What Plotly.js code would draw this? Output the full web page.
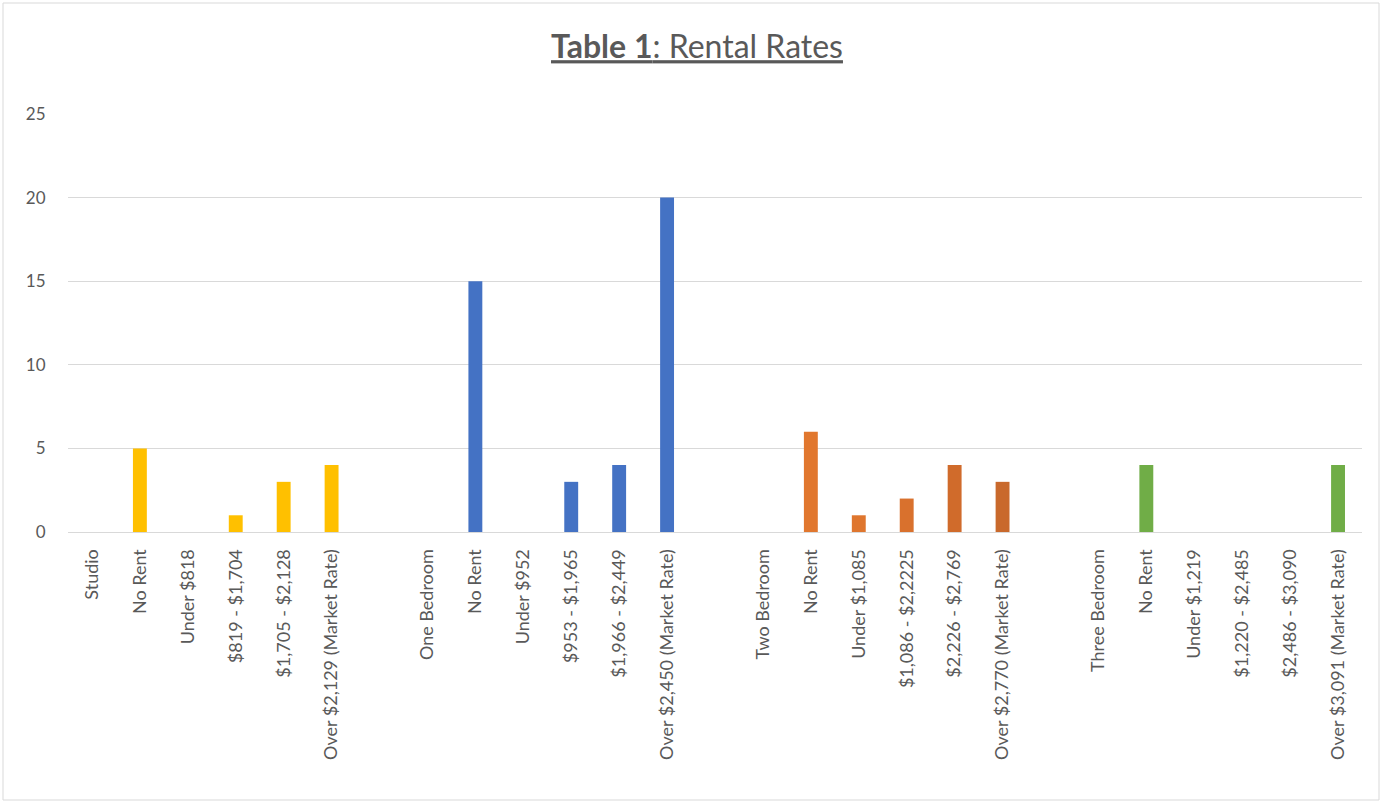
<!DOCTYPE html>
<html>
<head>
<meta charset="utf-8">
<script src="https://cdn.plot.ly/plotly-3.0.1.min.js"></script>
<style>html,body{margin:0;padding:0;background:#fff;}#chart{width:1382px;height:804px;}</style>
</head>
<body>
<div id="chart"></div>
<script>
// Data
const groups = ["Studio", "One Bedroom", "Two Bedroom", "Three Bedroom"];
const studioLabels = ["No Rent", "Under $818", "$819 - $1,704", "$1,705 - $2,128", "Over $2,129 (Market Rate)"];
const studioValues = [5, 0, 1, 3, 4];
const oneBedLabels = ["No Rent", "Under $952", "$953 - $1,965", "$1,966 - $2,449", "Over $2,450 (Market Rate)"];
const oneBedValues = [15, 0, 3, 4, 20];
const twoBedLabels = ["No Rent", "Under $1,085", "$1,086 - $2,2225", "$2,226 - $2,769", "Over $2,770 (Market Rate)"];
const twoBedValues = [6, 1, 2, 4, 3];
const threeBedLabels = ["No Rent", "Under $1,219", "$1,220 - $2,485", "$2,486 - $3,090", "Over $3,091 (Market Rate)"];
const threeBedValues = [4, 0, 0, 0, 4];

// Styles
const groupColors = [
  "#FFC000",
  "#4472C4",
  ["#E1772E", "#DF762E", "#D9712D", "#D06B2B", "#C9692C"],
  "#70AD47"
];

const allLabels = [studioLabels, oneBedLabels, twoBedLabels, threeBedLabels];
const allValues = [studioValues, oneBedValues, twoBedValues, threeBedValues];

const traces = [];
const tickvals = [];
const ticktext = [];
let pos = 0;
groups.forEach((g, gi) => {
  tickvals.push(pos); ticktext.push(g);
  const xs = [];
  pos += 1;
  allLabels[gi].forEach((lab) => {
    xs.push(pos); tickvals.push(pos); ticktext.push(lab); pos += 1;
  });
  traces.push({
    type: "bar",
    x: xs,
    y: allValues[gi],
    width: 0.29,
    marker: {color: groupColors[gi], line: {width: 0}},
    hoverinfo: "x+y",
    showlegend: false
  });
  pos += 1; // spacer category
});
const lastIdx = pos - 2;

const L = 68, R = 1362, T = 114, B = 532, W = 1382, H = 804;
const pw = R - L, ph = B - T;
const FONT = "Lato, 'Open Sans', sans-serif";

const layout = {
  width: W, height: H,
  margin: {l: L, r: W - R, t: T, b: H - B, pad: 0},
  paper_bgcolor: "#ffffff",
  plot_bgcolor: "#ffffff",
  barmode: "overlay",
  font: {family: FONT, color: "#595959", size: 17},
  title: {
    text: "<u><b>Table 1</b>: Rental Rates</u>",
    font: {family: FONT, size: 32, color: "#595959"},
    x: 697 / W, xanchor: "center", xref: "container",
    y: 1 - 47 / H, yanchor: "middle", yref: "container"
  },
  xaxis: {
    range: [-0.5, lastIdx + 0.5],
    tickmode: "array", tickvals: tickvals, ticktext: ticktext,
    tickangle: -90,
    tickfont: {family: FONT, size: 18, color: "#595959"},
    showgrid: false, zeroline: false,
    showline: true, linecolor: "#D9D9D9", linewidth: 1,
    ticks: "outside", ticklen: 9, tickcolor: "rgba(0,0,0,0)",
    automargin: false
  },
  yaxis: {
    range: [0, 25], dtick: 5, tick0: 0,
    showgrid: true, gridcolor: "#D9D9D9", gridwidth: 1,
    zeroline: false, showline: false,
    tickfont: {family: FONT, size: 17, color: "#595959"},
    ticks: "outside", ticklen: 18, tickcolor: "rgba(0,0,0,0)",
    automargin: false
  },
  shapes: [{
    type: "rect", xref: "paper", yref: "paper",
    x0: (3 - L) / pw, x1: (1379 - L) / pw,
    y0: (B - 800) / ph, y1: (B - 3) / ph,
    line: {color: "#D9D9D9", width: 1}, fillcolor: "rgba(0,0,0,0)", layer: "below"
  }]
};

Plotly.newPlot("chart", traces, layout, {displayModeBar: false});
</script>
</body>
</html>
